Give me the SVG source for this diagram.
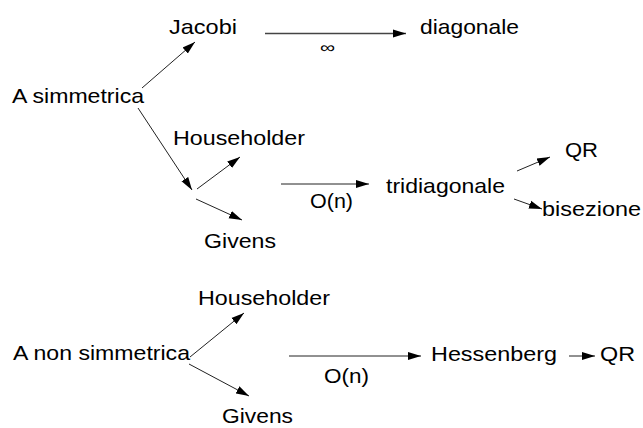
<svg xmlns="http://www.w3.org/2000/svg" width="643" height="428" viewBox="0 0 643 428">
<style>
text{font-family:"Liberation Sans",Arial,sans-serif;font-size:21px;fill:#000}
.lbl{font-size:21px}
.inf{font-size:16px}
.c{stroke:#222;stroke-width:1;fill:none;marker-end:url(#ah)}
</style>
<defs>
<marker id="ah" markerUnits="userSpaceOnUse" markerWidth="14" markerHeight="10" refX="13" refY="4" orient="auto" viewBox="0 0 14 8">
<path d="M0,0 L13,4 L0,8 z" fill="#000"/>
</marker>
</defs>
<rect width="643" height="428" fill="#fff"/>
<g id="connectors">
<line class="c" x1="142" y1="88" x2="195" y2="42"/>
<line class="c" x1="138" y1="108" x2="192" y2="190"/>
<line class="c" x1="197" y1="189" x2="240" y2="157"/>
<line class="c" x1="196" y1="199" x2="242" y2="220"/>
<line class="c" x1="265" y1="33.5" x2="406" y2="33.5" style="stroke:#444;stroke-width:1.3"/>
<line class="c" x1="281" y1="184" x2="369" y2="184"/>
<line class="c" x1="517" y1="171" x2="550" y2="157"/>
<line class="c" x1="514" y1="199" x2="542" y2="209"/>
<line class="c" x1="190" y1="357" x2="244" y2="313"/>
<line class="c" x1="189" y1="364" x2="249" y2="396"/>
<line class="c" x1="289" y1="356" x2="421" y2="356"/>
<line class="c" x1="569" y1="356" x2="595" y2="356"/>
<text class="inf" x="320" y="53" textLength="15" lengthAdjust="spacingAndGlyphs">∞</text>
<text class="lbl" x="310" y="208" textLength="43" lengthAdjust="spacingAndGlyphs">O(n)</text>
<text class="lbl" x="324" y="383" textLength="45" lengthAdjust="spacingAndGlyphs">O(n)</text>
</g>
<g id="a-simmetrica"><text x="12" y="103" textLength="132" lengthAdjust="spacingAndGlyphs">A simmetrica</text></g>
<g id="jacobi"><text x="169" y="34" textLength="68" lengthAdjust="spacingAndGlyphs">Jacobi</text></g>
<g id="diagonale"><text x="420" y="34" textLength="99" lengthAdjust="spacingAndGlyphs">diagonale</text></g>
<g id="householder-1"><text x="173" y="145" textLength="132" lengthAdjust="spacingAndGlyphs">Householder</text></g>
<g id="givens-1"><text x="204" y="248" textLength="72" lengthAdjust="spacingAndGlyphs">Givens</text></g>
<g id="tridiagonale"><text x="386" y="193" textLength="119" lengthAdjust="spacingAndGlyphs">tridiagonale</text></g>
<g id="qr-1"><text x="565" y="157" textLength="33" lengthAdjust="spacingAndGlyphs">QR</text></g>
<g id="bisezione"><text x="542" y="216" textLength="99" lengthAdjust="spacingAndGlyphs">bisezione</text></g>
<g id="a-non-simmetrica"><text x="13" y="360" textLength="177" lengthAdjust="spacingAndGlyphs">A non simmetrica</text></g>
<g id="householder-2"><text x="198" y="305" textLength="132" lengthAdjust="spacingAndGlyphs">Householder</text></g>
<g id="givens-2"><text x="222" y="423" textLength="71" lengthAdjust="spacingAndGlyphs">Givens</text></g>
<g id="hessenberg"><text x="431" y="361" textLength="126" lengthAdjust="spacingAndGlyphs">Hessenberg</text></g>
<g id="qr-2"><text x="600" y="361" textLength="35" lengthAdjust="spacingAndGlyphs">QR</text></g>
</svg>
